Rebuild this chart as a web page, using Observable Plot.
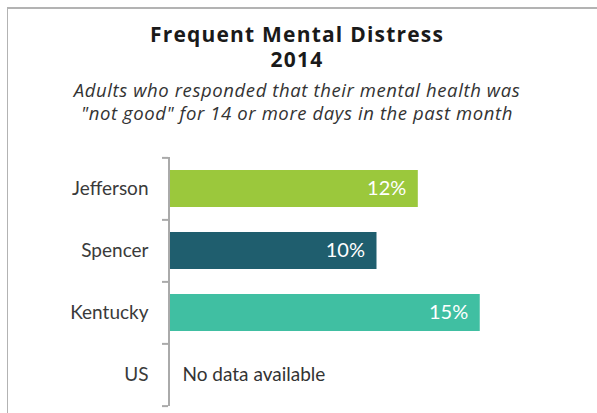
<!DOCTYPE html>
<html>
<head>
<meta charset="utf-8">
<script src="https://cdn.jsdelivr.net/npm/d3@7"></script>
<script src="https://cdn.jsdelivr.net/npm/@observablehq/plot@0.6"></script>
<style>
  html, body { margin: 0; padding: 0; background: #fff; }
  body { width: 597px; height: 413px; position: relative; overflow: hidden; font-family: Lato, "Open Sans", sans-serif; }
  #frame { position: absolute; left: 7px; top: 7px; width: 600px; height: 420px; border-top: 2px solid #b3b3b3; border-left: 1px solid #b3b3b3; box-sizing: border-box; }
  #header { position: relative; height: 140px; }
  .t { position: absolute; left: 0; width: 594px; text-align: center; white-space: pre; }
  #title { top: 22px; font-family: "Open Sans", sans-serif; font-size: 21px; letter-spacing: 1.2px; line-height: 25px; font-weight: bold; color: #1a1a1a; }
  #sub { top: 78px; font-family: "Open Sans", sans-serif; font-size: 18.5px; letter-spacing: 0.6px; line-height: 23.3px; font-style: italic; color: #333; }
  #chart { position: relative; }
</style>
</head>
<body>
<div id="frame"></div>
<div id="header">
  <div class="t" id="title"></div>
  <div class="t" id="sub"></div>
</div>
<div id="chart"></div>
<script>
const titleText = "Frequent Mental Distress";
const yearText = "2014";
const subtitleLines = ["Adults who responded that their mental health was", "\"not good\" for 14 or more days in the past month"];
const categories = ["Jefferson", "Spencer", "Kentucky", "US"];
const values = [12, 10, 15, null];
const colors = ["#9bc83c", "#1f5e6e", "#40bfa2", "#ffffff"];
const noDataText = "No data available";

document.getElementById("title").textContent = titleText + "\n" + yearText;
document.getElementById("sub").textContent = subtitleLines.join("\n");

const data = categories.map((c, i) => ({category: c, value: values[i], color: colors[i]}));
const withValue = data.filter(d => d.value != null);
const noData = data.filter(d => d.value == null);

const height = 273, marginTop = 17, marginBottom = 7;
const step = (height - marginTop - marginBottom) / categories.length;

const chart = Plot.plot({
  width: 597,
  height,
  marginTop,
  marginBottom,
  marginLeft: 170,
  marginRight: 14,
  style: {fontFamily: "Lato, 'Open Sans', sans-serif", fontSize: "19px", color: "#3a3a3a", background: "transparent"},
  x: {domain: [0, 20], axis: null},
  y: {domain: categories, paddingInner: 0.4, paddingOuter: 0.2, label: null, axis: null},
  color: {type: "identity"},
  marks: [
    Plot.barX(withValue, {x: "value", y: "category", fill: "color"}),
    Plot.text(withValue, {x: "value", y: "category", text: d => d.value + "%", textAnchor: "end", dx: -12, fill: "white", fontSize: 20}),
    Plot.text(noData, {x: 0, y: "category", text: () => noDataText, textAnchor: "start", dx: 12, fill: "#333", fontSize: 19}),
    Plot.axisY({tickSize: 0, tickPadding: 22, fontSize: 19, label: null}),
    Plot.ruleX([0], {dx: -1.5, stroke: "#aaaaaa", strokeWidth: 2}),
    Plot.tickY(categories, {y: d => d, dy: -step / 2, insetLeft: -8, insetRight: 415, stroke: "#aaaaaa", strokeWidth: 2}),
    Plot.tickY(categories.slice(-1), {y: d => d, dy: step / 2, insetLeft: -8, insetRight: 415, stroke: "#aaaaaa", strokeWidth: 2})
  ]
});
document.getElementById("chart").appendChild(chart);
</script>
</body>
</html>
